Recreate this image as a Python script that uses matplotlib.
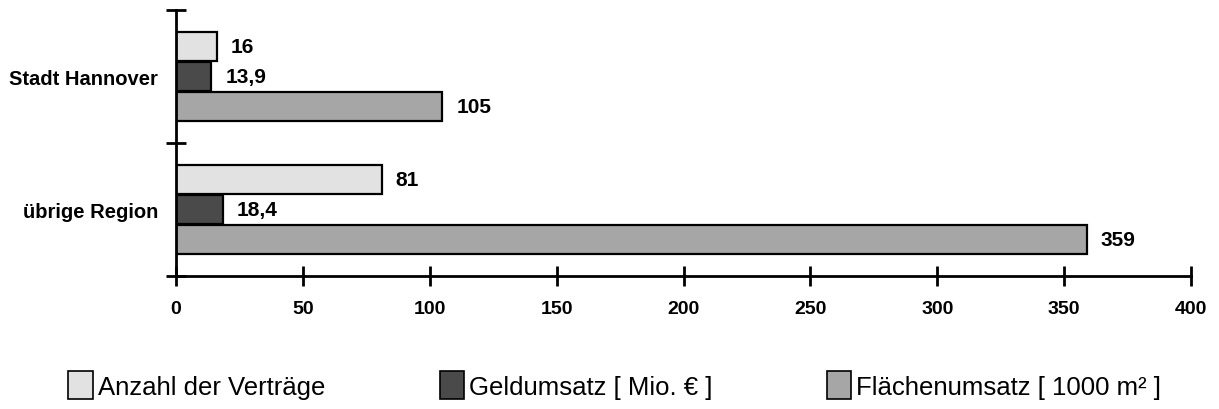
import matplotlib
matplotlib.use("Agg")
import matplotlib.pyplot as plt
from matplotlib.patches import Patch
import numpy as np

plt.rcParams['font.family'] = ['Liberation Sans', 'DejaVu Sans']

categories = ["Stadt Hannover", "übrige Region"]
series_names = ["Anzahl der Verträge", "Geldumsatz [ Mio. € ]", "Flächenumsatz [ 1000 m² ]"]
anzahl = [16, 81]
geld = [13.9, 18.4]
flaeche = [105, 359]
value_labels = [["16", "81"], ["13,9", "18,4"], ["105", "359"]]
x_ticks = [0, 50, 100, 150, 200, 250, 300, 350, 400]

series = [anzahl, geld, flaeche]
colors = ["#e2e2e2", "#4a4a4a", "#a6a6a6"]

fig = plt.figure(figsize=(12.19, 4.10), dpi=100)
ax = fig.add_axes([176/1219, 1 - 277/410, (1191-176)/1219, (277-11)/410])

# group centres (top group first)
centres = np.array([1.5, 0.5])
offsets = [0.222, 0.0, -0.222]
h = 0.218

for vals, col, off, labs in zip(series, colors, offsets, value_labels):
    bars = ax.barh(centres + off, vals, height=h, color=col, edgecolor="black", linewidth=1.6)
    for b, lab in zip(bars, labs):
        ax.annotate(lab, (b.get_width(), b.get_y() + b.get_height()/2),
                    xytext=(14, 0), textcoords="offset pixels",
                    va="center", ha="left", fontsize=15, fontweight="bold")

ax.set_xlim(0, 400)
ax.set_ylim(0, 2)
ax.set_xticks(x_ticks)
ax.set_xticklabels([str(t) for t in x_ticks], fontsize=14, fontweight="bold")
ax.set_yticks(centres)
ax.set_yticklabels(categories, fontsize=14.5, fontweight="bold")
ax.set_yticks([0, 1, 2], minor=True)
ax.tick_params(axis="y", which="major", length=0, pad=13)
ax.tick_params(axis="y", which="minor", length=14, width=2, direction="inout")
ax.tick_params(axis="x", which="major", length=14, width=2, direction="inout", pad=10)

for s in ["top", "right"]:
    ax.spines[s].set_visible(False)
for s in ["left", "bottom"]:
    ax.spines[s].set_linewidth(2)

handles = [Patch(facecolor=c, edgecolor="black", linewidth=1.2) for c in colors]
fig.legend(handles, series_names, loc="center left", bbox_to_anchor=(58/1219, 1 - 386/410),
           ncol=3, frameon=False, fontsize=18.5, handlelength=0.95, handleheight=1.25,
           handletextpad=0.2, columnspacing=4.45, borderaxespad=0)

fig.savefig("out.png", dpi=100)
